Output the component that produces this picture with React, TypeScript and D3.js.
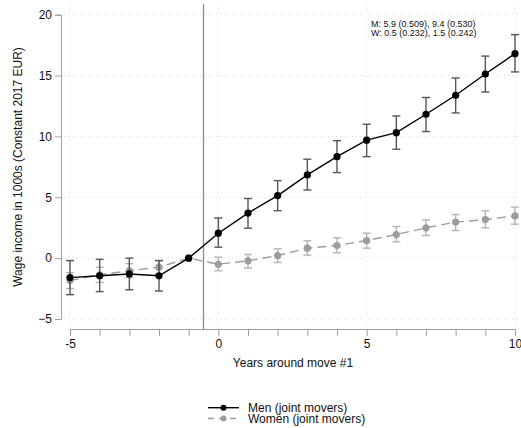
import { useRef, useEffect } from 'react';
import * as d3 from 'd3';

const years = [-5, -4, -3, -2, -1, 0, 1, 2, 3, 4, 5, 6, 7, 8, 9, 10];
const menEst = [-1.6, -1.45, -1.3, -1.45, 0, 2.05, 3.7, 5.14, 6.84, 8.34, 9.69, 10.31, 11.82, 13.38, 15.13, 16.8];
const menLo = [-3.0, -2.75, -2.6, -2.7, 0, 0.9, 2.46, 3.9, 5.6, 7.03, 8.34, 8.95, 10.4, 11.93, 13.65, 15.3];
const menHi = [-0.2, -0.1, 0.0, -0.2, 0, 3.3, 4.9, 6.37, 8.13, 9.65, 11.0, 11.68, 13.2, 14.8, 16.6, 18.36];
const womenEst = [-1.84, -1.37, -1.04, -0.74, 0, -0.5, -0.22, 0.21, 0.82, 1.04, 1.45, 1.94, 2.49, 2.96, 3.17, 3.47];
const womenLo = [-2.5, -2.0, -1.6, -1.3, 0, -1.04, -0.8, -0.36, 0.25, 0.44, 0.82, 1.34, 1.86, 2.27, 2.49, 2.79];
const womenHi = [-1.2, -0.75, -0.45, -0.2, 0, 0.08, 0.3, 0.76, 1.42, 1.67, 2.05, 2.6, 3.14, 3.58, 3.88, 4.19];
const xTicks = [-5, 0, 5, 10];
const yTicks = [-5, 0, 5, 10, 15, 20];
const noteLines = ['M: 5.9 (0.509), 9.4 (0.530)', 'W: 0.5 (0.232), 1.5 (0.242)'];

export default function App() {
  const svgRef = useRef<SVGSVGElement>(null);

  useEffect(() => {
    const svg = d3.select(svgRef.current);
    svg.selectAll('*').remove();
    const font = '"Liberation Sans", Arial, sans-serif';

    const x = d3.scaleLinear().domain([-5, 10]).range([70, 515]);
    const y = d3.scaleLinear().domain([-5, 20]).range([319, 14.7]);

    // grid
    svg.append('g')
      .selectAll('line')
      .data(yTicks)
      .join('line')
      .attr('x1', 64).attr('x2', 518)
      .attr('y1', (d) => y(d)).attr('y2', (d) => y(d))
      .attr('stroke', '#dcdcdc').attr('stroke-dasharray', '1,3');
    svg.append('g')
      .selectAll('line')
      .data(xTicks)
      .join('line')
      .attr('x1', (d) => x(d)).attr('x2', (d) => x(d))
      .attr('y1', 4).attr('y2', 326)
      .attr('stroke', '#dcdcdc').attr('stroke-dasharray', '1,3');

    // axes
    const yAxis = svg.append('g').attr('transform', 'translate(61,0)')
      .call(d3.axisLeft(y).tickValues(yTicks).tickSize(6).tickPadding(3).tickFormat(d3.format('d')));
    const xAxis = svg.append('g').attr('transform', 'translate(0,329)')
      .call(d3.axisBottom(x).tickValues(years).tickSize(7).tickPadding(3)
        .tickFormat((d) => (xTicks.includes(+d) ? String(d) : '')));
    [yAxis, xAxis].forEach((a) => {
      a.selectAll('path, line').attr('stroke', '#a0a0a0');
      a.selectAll('text').attr('font-family', font).attr('font-size', 12).attr('fill', '#111');
    });

    // reference line
    svg.append('line')
      .attr('x1', x(-0.5)).attr('x2', x(-0.5))
      .attr('y1', 4).attr('y2', 329)
      .attr('stroke', '#8c8c8c').attr('stroke-width', 1.3);

    const drawSeries = (est: number[], lo: number[], hi: number[], lineColor: string, ciColor: string, dash: string | null) => {
      const g = svg.append('g');
      years.forEach((yr, i) => {
        if (yr === -1) return;
        g.append('line').attr('x1', x(yr)).attr('x2', x(yr)).attr('y1', y(lo[i])).attr('y2', y(hi[i]))
          .attr('stroke', ciColor).attr('stroke-width', 1.4);
        [lo[i], hi[i]].forEach((v) => {
          g.append('line').attr('x1', x(yr) - 4).attr('x2', x(yr) + 4).attr('y1', y(v)).attr('y2', y(v))
            .attr('stroke', ciColor).attr('stroke-width', 1.4);
        });
      });
      const line = d3.line<number>().x((_, i) => x(years[i])).y((d) => y(d));
      g.append('path').datum(est).attr('d', line).attr('fill', 'none')
        .attr('stroke', lineColor).attr('stroke-width', 1.4)
        .attr('stroke-dasharray', dash);
      g.selectAll('circle').data(est).join('circle')
        .attr('cx', (_, i) => x(years[i])).attr('cy', (d) => y(d)).attr('r', 3.6)
        .attr('fill', lineColor);
    };

    drawSeries(womenEst, womenLo, womenHi, '#9c9c9c', '#b4b4b4', '9,5');
    drawSeries(menEst, menLo, menHi, '#000', '#555', null);

    // note
    svg.append('g').selectAll('text').data(noteLines).join('text')
      .attr('x', 371).attr('y', (_, i) => 27 + i * 9)
      .attr('font-family', font).attr('font-size', 9).attr('fill', '#111')
      .text((d) => d);

    // titles
    svg.append('text').attr('x', 293).attr('y', 367).attr('text-anchor', 'middle')
      .attr('font-family', font).attr('font-size', 12).attr('fill', '#111')
      .text('Years around move #1');
    svg.append('text').attr('transform', 'translate(22,167) rotate(-90)').attr('text-anchor', 'middle')
      .attr('font-family', font).attr('font-size', 12).attr('fill', '#111')
      .text('Wage income in 1000s (Constant 2017 EUR)');

    // legend
    const legend = [
      { label: 'Men (joint movers)', color: '#000', dash: null as string | null, y: 407.7 },
      { label: 'Women (joint movers)', color: '#9c9c9c', dash: '6,5', y: 418.5 },
    ];
    legend.forEach((l) => {
      svg.append('line').attr('x1', 208).attr('x2', 239).attr('y1', l.y).attr('y2', l.y)
        .attr('stroke', l.color).attr('stroke-width', 1.4).attr('stroke-dasharray', l.dash);
      svg.append('circle').attr('cx', 223.5).attr('cy', l.y).attr('r', 3).attr('fill', l.color);
      svg.append('text').attr('x', 248).attr('y', l.y + 4).attr('font-family', font)
        .attr('font-size', 12).attr('fill', '#111').text(l.label);
    });
  }, []);

  return (
    <svg ref={svgRef} width={521} height={428} style={{ position: 'absolute', left: 0, top: 0, background: '#fff' }} />
  );
}
